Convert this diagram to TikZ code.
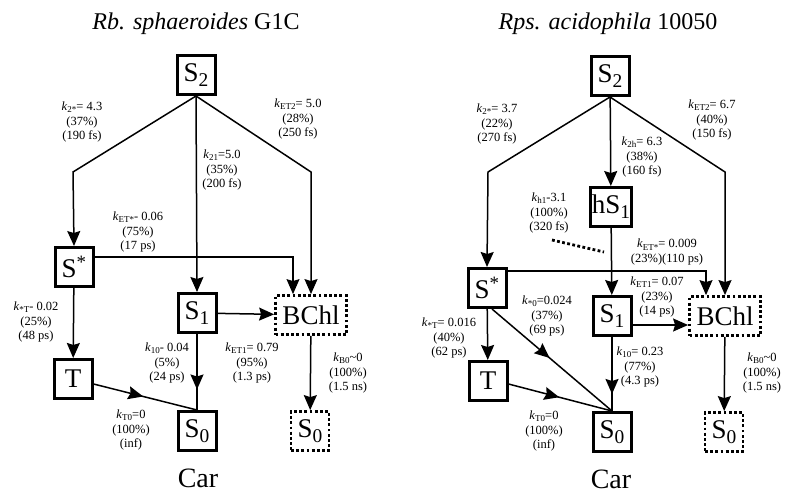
\documentclass[tikz,border=0pt]{standalone}
\usepackage{fontspec}
\setmainfont{Liberation Serif}
\usetikzlibrary{arrows.meta,decorations.markings}

\newcommand{\lo}[1]{\raisebox{-0.42ex}{\scalebox{0.72}{#1}}}
\newcommand{\kr}[1]{\textit{k}\lo{#1}}

\begin{document}
\begin{tikzpicture}[
    x=1pt, y=-1pt,
    box/.style={rectangle, draw, line width=3pt, minimum width=38pt, minimum height=39pt, inner sep=1pt, font=\fontsize{27}{30}\selectfont},
    dbox/.style={box, line width=2.8pt, dash pattern=on 2.8pt off 2.4pt},
    lbl/.style={align=center, inner sep=0pt, font=\fontsize{12.5}{14.5}\selectfont},
    ttl/.style={anchor=base, font=\fontsize{24}{28}\selectfont},
    flow/.style={-{Stealth[length=15pt, width=13pt, inset=2pt]}, line width=1.5pt},
    thin/.style={-{Stealth[length=15pt, width=13pt, inset=2pt]}, line width=1.1pt},
    midflow/.style={line width=1.5pt, postaction={decorate}, decoration={markings,
      mark=at position #1 with {\arrow{Stealth[length=15pt, width=13pt, inset=2pt]}}}}
  ]
    \useasboundingbox (0,0) rectangle (800,495);

    % Left panel: Rb. sphaeroides G1C
    \node[ttl] (titleL) at (196,30) {\textit{Rb. sphaeroides} G1C};
    \node[box] (s2L) at (196,75) {S\lo{2}};
    \node[box] (sstL) at (74,267) {S\textsuperscript{*}};
    \node[box] (s1L) at (197,313) {S\lo{1}};
    \node[dbox, minimum width=71pt] (bchlL) at (311,315) {BChl};
    \node[box] (tL) at (73,379) {T};
    \node[box] (s0L) at (197,431) {S\lo{0}};
    \node[dbox] (b0L) at (310,431) {S\lo{0}};
    \node[ttl, font=\fontsize{28}{30}\selectfont] (carL) at (198,487) {Car};

    \coordinate (lbL) at (73,172);
    \coordinate (rbL) at (311,172);

    \draw[flow] (s2L.south) -- (lbL) -- (sstL.north);
    \draw[flow] (s2L.south) -- (s1L.north);
    \draw[flow] (s2L.south) -- (rbL) -- (bchlL.north);
    \draw[thin] ([yshift=10pt]sstL.east) -| ([xshift=-18pt]bchlL.north);
    \draw[flow] (sstL) -- (tL);
    \draw[flow] (s1L) -- (bchlL);
    \draw[midflow=0.73] (s1L.south) -- (s0L.north);
    \draw[midflow=0.48] ([yshift=-5pt]tL.east) -- (s0L.north);
    \draw[flow] (bchlL) -- (b0L);

    \node[lbl] (k2sL) at (82,122) {\kr{2*}= 4.3\\(37\%)\\(190 fs)};
    \node[lbl] (k21L) at (222,170) {\kr{21}=5.0\\(35\%)\\(200 fs)};
    \node[lbl] (ket2L) at (298,119) {\kr{ET2}= 5.0\\(28\%)\\(250 fs)};
    \node[lbl] (ketsL) at (138,232) {\kr{ET*}- 0.06\\(75\%)\\(17 ps)};
    \node[lbl] (kstL) at (36,322) {\kr{*T}- 0.02\\(25\%)\\(48 ps)};
    \node[lbl] (k10L) at (167,363) {\kr{10}- 0.04\\(5\%)\\(24 ps)};
    \node[lbl] (ket1L) at (252,363) {\kr{ET1}= 0.79\\(95\%)\\(1.3 ps)};
    \node[lbl] (kb0L) at (348,373) {\kr{B0}\textasciitilde0\\(100\%)\\(1.5 ns)};
    \node[lbl] (kt0L) at (131,430) {\kr{T0}=0\\(100\%)\\(inf)};

    % Right panel: Rps. acidophila 10050
    \node[ttl] (titleR) at (608,30) {\textit{Rps. acidophila} 10050};
    \node[box] (s2R) at (610,76) {S\lo{2}};
    \node[box] (hs1R) at (611,207) {hS\lo{1}};
    \node[box] (sstR) at (487,288) {S\textsuperscript{*}};
    \node[box] (s1R) at (612,316) {S\lo{1}};
    \node[dbox, minimum width=71pt] (bchlR) at (725,316) {BChl};
    \node[box] (tR) at (488,381) {T};
    \node[box] (s0R) at (612,432) {S\lo{0}};
    \node[dbox] (b0R) at (724,432) {S\lo{0}};
    \node[ttl, font=\fontsize{28}{30}\selectfont] (carR) at (611,488) {Car};

    \coordinate (lbR) at (488,172);
    \coordinate (rbR) at (725,172);
    \coordinate (hp1) at (552,240);
    \coordinate (hp2) at (604,252);

    \draw[flow] (s2R.south) -- (lbR) -- (sstR.north);
    \draw[flow] (s2R) -- (hs1R);
    \draw[flow] (s2R.south) -- (rbR) -- (bchlR.north);
    \draw[flow] (hs1R) -- (s1R);
    \draw[thin] ([yshift=17pt]sstR.east) -| ([xshift=-19pt]bchlR.north);
    \draw[flow] (sstR) -- (tR);
    \draw[midflow=0.48] ([xshift=5pt]sstR.south) -- (s0R.north);
    \draw[midflow=0.49] ([yshift=-3pt]tR.east) -- (s0R.north);
    \draw[flow] ([yshift=-9pt]s1R.east) -- ([yshift=-9pt]bchlR.west);
    \draw[midflow=0.77] (s1R.south) -- (s0R.north);
    \draw[flow] (bchlR) -- (b0R);
    \draw[line width=2.8pt, dash pattern=on 2.8pt off 2.4pt] (hp1) -- (hp2);

    \node[lbl] (k2sR) at (497,124) {\kr{2*}= 3.7\\(22\%)\\(270 fs)};
    \node[lbl] (k2hR) at (642,157) {\kr{2h}= 6.3\\(38\%)\\(160 fs)};
    \node[lbl] (ket2R) at (712,120) {\kr{ET2}= 6.7\\(40\%)\\(150 fs)};
    \node[lbl] (kh1R) at (549,213) {\kr{h1}-3.1\\(100\%)\\(320 fs)};
    \node[lbl] (ketsR) at (667,252) {\kr{ET*}= 0.009\\(23\%)(110 ps)};
    \node[lbl] (ket1R) at (657,297) {\kr{ET1}= 0.07\\(23\%)\\(14 ps)};
    \node[lbl] (ks0R) at (547,316) {\kr{*0}=0.024\\(37\%)\\(69 ps)};
    \node[lbl] (kstR) at (449,338) {\kr{*T}= 0.016\\(40\%)\\(62 ps)};
    \node[lbl] (k10R) at (640,367) {\kr{10}= 0.23\\(77\%)\\(4.3 ps)};
    \node[lbl] (kt0R) at (544,431) {\kr{T0}=0\\(100\%)\\(inf)};
    \node[lbl] (kb0R) at (762,373) {\kr{B0}\textasciitilde0\\(100\%)\\(1.5 ns)};
\end{tikzpicture}
\end{document}
